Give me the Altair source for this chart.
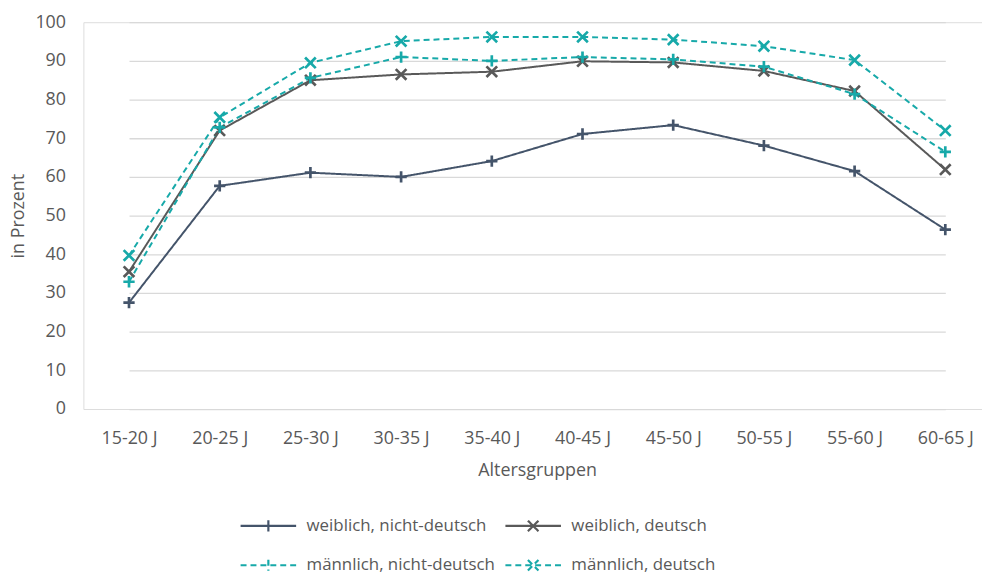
import altair as alt
import pandas as pd

groups = ["15-20 J", "20-25 J", "25-30 J", "30-35 J", "35-40 J",
          "40-45 J", "45-50 J", "50-55 J", "55-60 J", "60-65 J"]
series = ["weiblich, nicht-deutsch", "weiblich, deutsch",
          "männlich, nicht-deutsch", "männlich, deutsch"]
markers = ["plus", "x", "plus", "x"]
w_nd = [27.5, 57.7, 61.1, 60.0, 64.1, 71.1, 73.4, 68.1, 61.5, 46.4]
w_d = [35.5, 72.0, 85.0, 86.5, 87.2, 89.9, 89.6, 87.4, 82.2, 61.9]
m_nd = [32.9, 72.8, 85.6, 91.0, 90.0, 91.0, 90.4, 88.5, 81.4, 66.5]
m_d = [39.7, 75.4, 89.5, 95.1, 96.2, 96.2, 95.5, 93.8, 90.2, 72.0]

colors = ["#44546A", "#595959", "#17A9A9", "#17A9A9"]
dashes = [[1, 0], [1, 0], [6, 4], [6, 4]]
PLUS = "M-0.9,0H0.9M0,-0.9V0.9"
XMARK = "M-0.85,-0.85L0.85,0.85M-0.85,0.85L0.85,-0.85"

rows = []
for name, mk, vals in zip(series, markers, [w_nd, w_d, m_nd, m_d]):
    for g, v in zip(groups, vals):
        rows.append({"Altersgruppe": g, "Gruppe": name, "Marker": mk, "Wert": v})
df = pd.DataFrame(rows)

FONT = "Open Sans"
TXT = "#595959"
FS = 18

sym_expr = ("indexof(datum.value, 'nicht') >= 0 ? "
            "'M0,-0.2V0.2M-1,0H1' : "
            "'M-0.19,-0.19L0.19,0.19M-0.19,0.19L0.19,-0.19M-1,0H1'")

legend = alt.Legend(
    title=None, orient="none", legendX=157, legendY=478, columns=2,
    direction="horizontal",
    symbolSize=3136, symbolStrokeWidth=2.2, labelFont=FONT, labelFontSize=17,
    labelColor=TXT, labelOffset=9, columnPadding=6, rowPadding=-20, labelLimit=400,
    symbolFillColor="transparent", symbolType={"expr": sym_expr},
)

x = alt.X("Altersgruppe:N", sort=groups,
          scale=alt.Scale(type="point", domain=groups, range=[46, 869], padding=0),
          axis=alt.Axis(title="Altersgruppen", labelAngle=0, ticks=False, domain=False,
                        grid=False, labelFont=FONT, labelFontSize=FS, labelColor=TXT,
                        labelPadding=21, titleFont=FONT, titleFontSize=FS,
                        titleColor=TXT, titleFontWeight="normal", titlePadding=14))
y = alt.Y("Wert:Q", scale=alt.Scale(domain=[0, 100], nice=False),
          axis=alt.Axis(title="in Prozent", values=list(range(0, 101, 10)), ticks=False,
                        domain=False, gridColor="#D9D9D9", gridWidth=1.3,
                        labelFont=FONT, labelFontSize=FS, labelColor=TXT, labelPadding=18,
                        titleFont=FONT, titleFontSize=FS, titleColor=TXT,
                        titleFontWeight="normal", titlePadding=7))
color = alt.Color("Gruppe:N", scale=alt.Scale(domain=series, range=colors), legend=legend)
dash = alt.StrokeDash("Gruppe:N", scale=alt.Scale(domain=series, range=dashes), legend=legend)

lines = alt.Chart(df).mark_line(strokeWidth=2).encode(x=x, y=y, color=color, strokeDash=dash)
points = alt.Chart(df).mark_point(filled=False, size=160, strokeWidth=2.7, opacity=1).encode(
    x=x, y=y, color=color,
    shape=alt.Shape("Marker:N", scale=alt.Scale(domain=["plus", "x"], range=[PLUS, XMARK]),
                    legend=None),
)

chart = alt.layer(lines, points).properties(
    width=906, height=390,
    autosize=alt.AutoSizeParams(type="none"),
    padding={"left": 76, "top": 12, "right": 0, "bottom": 164},
).configure_view(stroke=None).configure(background="white")

chart.save("out.html", embed_options={"renderer": "svg", "actions": False})
